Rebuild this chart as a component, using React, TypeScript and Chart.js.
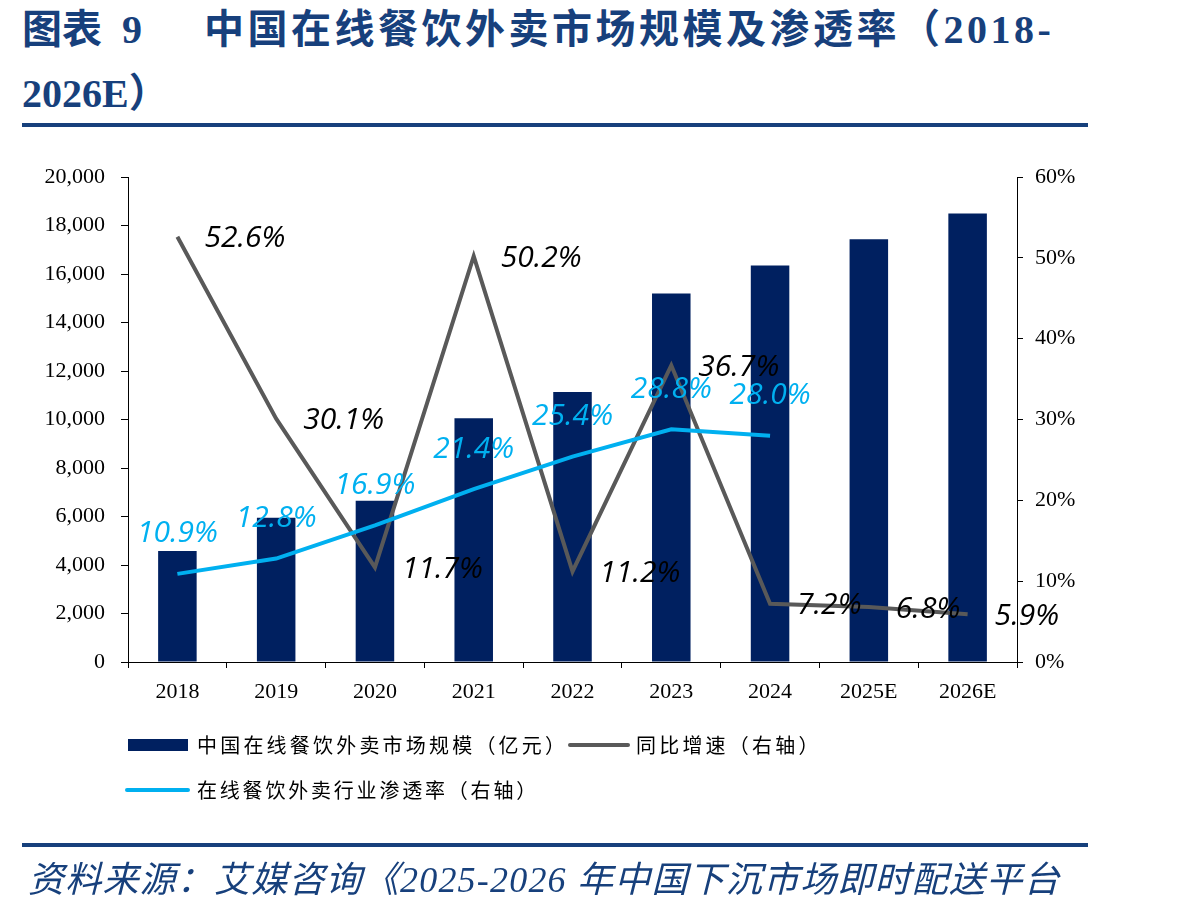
import React, { useEffect, useRef } from "react";
import { Chart, registerables } from "chart.js";

Chart.register(...registerables);

const categories = ["2018", "2019", "2020", "2021", "2022", "2023", "2024", "2025E", "2026E"];
const marketSize = [4580, 5950, 6650, 10050, 11130, 15200, 16350, 17430, 18500];
const yoyGrowth = [52.6, 30.1, 11.7, 50.2, 11.2, 36.7, 7.2, 6.8, 5.9];
const penetration: (number | null)[] = [10.9, 12.8, 16.9, 21.4, 25.4, 28.8, 28.0, null, null];

const leftMax = 20000;
const leftStep = 2000;
const rightMax = 60;
const rightStep = 10;

const NAVY = "#002060";
const GRAY = "#595959";
const CYAN = "#00B0F0";
const TITLE_BLUE = "#17407c";

const labelPlugin = {
  id: "valueLabels",
  afterDatasetsDraw(chart: any) {
    const ctx = chart.ctx;
    ctx.save();
    ctx.font = "italic 30px 'Open Sans'";
    ctx.textBaseline = "middle";
    const gMeta = chart.getDatasetMeta(1);
    gMeta.data.forEach((pt: any, i: number) => {
      const v = yoyGrowth[i];
      if (v == null) return;
      ctx.fillStyle = "#000000";
      ctx.textAlign = "left";
      ctx.fillText(v.toFixed(1) + "%", pt.x + 27, pt.y + 2);
    });
    const pMeta = chart.getDatasetMeta(2);
    pMeta.data.forEach((pt: any, i: number) => {
      const v = penetration[i];
      if (v == null) return;
      ctx.fillStyle = CYAN;
      ctx.textAlign = "center";
      ctx.fillText(v.toFixed(1) + "%", pt.x, pt.y - 40);
    });
    ctx.restore();
  },
};

export default function App() {
  const canvasRef = useRef<HTMLCanvasElement | null>(null);

  useEffect(() => {
    if (!canvasRef.current) return;
    const tickFont = { family: "'Liberation Serif', serif", size: 22 };
    const chart = new Chart(canvasRef.current, {
      type: "bar",
      data: {
        labels: categories,
        datasets: [
          {
            type: "bar",
            label: "中国在线餐饮外卖市场规模（亿元）",
            data: marketSize,
            backgroundColor: NAVY,
            barPercentage: 0.39,
            categoryPercentage: 1,
            yAxisID: "y",
            order: 3,
          },
          {
            type: "line",
            label: "同比增速（右轴）",
            data: yoyGrowth,
            borderColor: GRAY,
            backgroundColor: GRAY,
            borderWidth: 4,
            pointRadius: 0,
            tension: 0,
            yAxisID: "y1",
            order: 2,
          },
          {
            type: "line",
            label: "在线餐饮外卖行业渗透率（右轴）",
            data: penetration,
            borderColor: CYAN,
            backgroundColor: CYAN,
            borderWidth: 4,
            pointRadius: 0,
            tension: 0,
            yAxisID: "y1",
            order: 1,
          },
        ],
      } as any,
      options: {
        responsive: false,
        animation: false,
        layout: { padding: { top: 177, left: 0, right: 111, bottom: 211 } },
        plugins: {
          legend: { display: false },
          tooltip: { enabled: false },
          title: { display: false },
        },
        scales: {
          x: {
            offset: true,
            grid: { display: true, drawOnChartArea: false, drawTicks: true, tickLength: 6, color: "#000", offset: true },
            border: { display: true, color: "#000", width: 1 },
            ticks: { color: "#000", font: tickFont, padding: 11, maxRotation: 0 },
            afterFit: (s: any) => { s.height = 40; },
          },
          y: {
            position: "left",
            min: 0,
            max: leftMax,
            grid: { display: true, drawOnChartArea: false, drawTicks: true, tickLength: 7, color: "#000" },
            border: { display: true, color: "#000", width: 1 },
            ticks: {
              stepSize: leftStep,
              color: "#000",
              font: tickFont,
              padding: 16,
              callback: (v: any) => Number(v).toLocaleString("en-US"),
            },
            afterFit: (s: any) => { s.width = 128; },
          },
          y1: {
            position: "right",
            min: 0,
            max: rightMax,
            grid: { display: true, drawOnChartArea: false, drawTicks: true, tickLength: 6, color: "#000" },
            border: { display: true, color: "#000", width: 1 },
            ticks: {
              stepSize: rightStep,
              color: "#000",
              font: tickFont,
              padding: 12,
              callback: (v: any) => v + "%",
            },
            afterFit: (s: any) => { s.width = 70; },
          },
        },
      } as any,
      plugins: [labelPlugin],
    });
    return () => chart.destroy();
  }, []);

  const cjkSerif = "'Liberation Serif', 'Noto Sans CJK SC', serif";
  const cjk = "'Noto Sans CJK SC', sans-serif";

  return (
    <div style={{ position: "absolute", left: 0, top: 0, width: 1198, height: 913, background: "#fff", overflow: "hidden" }}>
      <div style={{ position: "absolute", left: 22, top: 2, fontFamily: cjkSerif, fontWeight: 700, fontSize: 40, color: TITLE_BLUE, whiteSpace: "nowrap", lineHeight: "56px" }}>
        图表&nbsp;&nbsp;9
      </div>
      <div style={{ position: "absolute", left: 204, top: 2, fontFamily: cjkSerif, fontWeight: 700, fontSize: 40, color: TITLE_BLUE, whiteSpace: "nowrap", lineHeight: "56px", letterSpacing: 3.5 }}>
        中国在线餐饮外卖市场规模及渗透率（2018-
      </div>
      <div style={{ position: "absolute", left: 22, top: 66, fontFamily: cjkSerif, fontWeight: 700, fontSize: 40, color: TITLE_BLUE, whiteSpace: "nowrap", lineHeight: "56px" }}>
        2026E）
      </div>
      <div style={{ position: "absolute", left: 22, top: 123, width: 1066, height: 4, background: TITLE_BLUE }} />

      <canvas ref={canvasRef} width={1198} height={913} style={{ position: "absolute", left: 0, top: 0, width: 1198, height: 913 }} />

      <div style={{ position: "absolute", left: 128, top: 739, width: 60, height: 12, background: NAVY }} />
      <div style={{ position: "absolute", left: 197, top: 731, fontFamily: cjk, fontSize: 20, letterSpacing: 3.2, lineHeight: "28px", color: "#000", whiteSpace: "nowrap" }}>
        中国在线餐饮外卖市场规模（亿元）
      </div>
      <div style={{ position: "absolute", left: 568, top: 743, width: 62, height: 4, borderRadius: 2, background: GRAY }} />
      <div style={{ position: "absolute", left: 636, top: 731, fontFamily: cjk, fontSize: 20, letterSpacing: 3.2, lineHeight: "28px", color: "#000", whiteSpace: "nowrap" }}>
        同比增速（右轴）
      </div>
      <div style={{ position: "absolute", left: 125, top: 788, width: 65, height: 4, borderRadius: 2, background: CYAN }} />
      <div style={{ position: "absolute", left: 197, top: 776, fontFamily: cjk, fontSize: 20, letterSpacing: 2.8, lineHeight: "28px", color: "#000", whiteSpace: "nowrap" }}>
        在线餐饮外卖行业渗透率（右轴）
      </div>

      <div style={{ position: "absolute", left: 22, top: 843, width: 1066, height: 4, background: TITLE_BLUE }} />
      <div style={{ position: "absolute", left: 28, top: 855, fontFamily: cjkSerif, fontStyle: "italic", fontSize: 36, letterSpacing: 1.2, color: TITLE_BLUE, whiteSpace: "nowrap", lineHeight: "50px" }}>
        资料来源：艾媒咨询《2025-2026 年中国下沉市场即时配送平台
      </div>
    </div>
  );
}
